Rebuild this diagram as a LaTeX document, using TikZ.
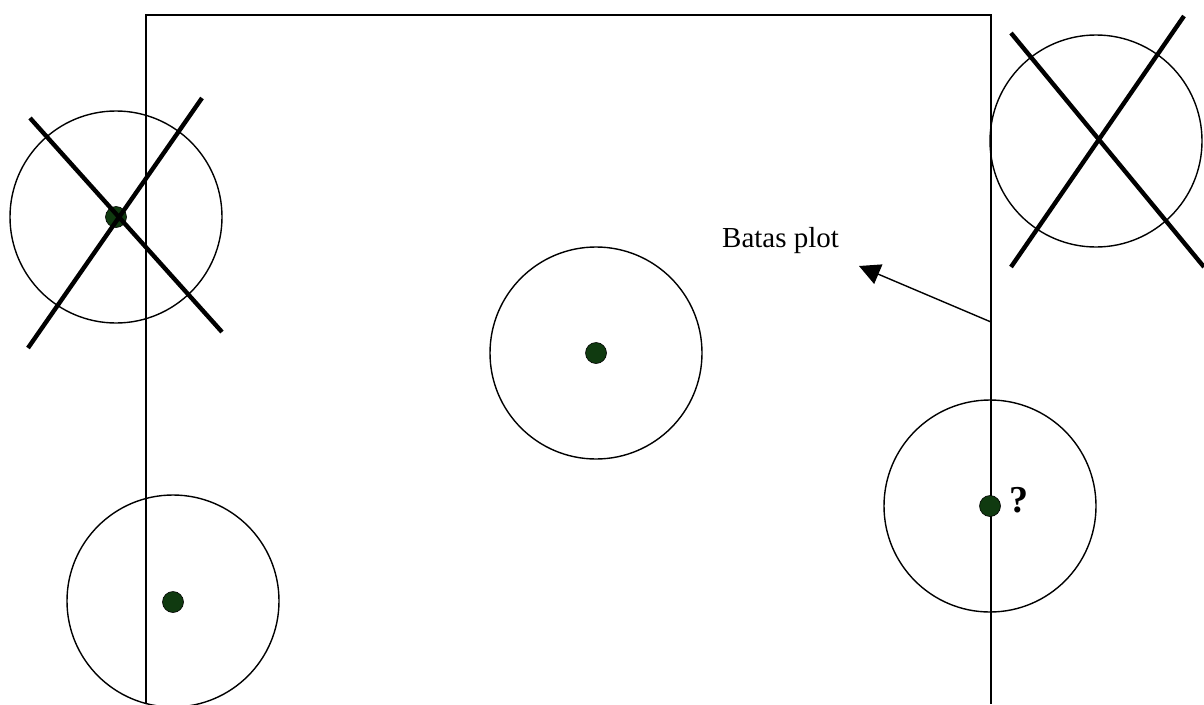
\documentclass[tikz,border=0pt]{standalone}
\usepackage{fontspec}
\setmainfont{Liberation Serif}
\usetikzlibrary{arrows.meta}
\definecolor{dotgreen}{RGB}{16,58,16}
\tikzset{
  plotline/.style={line width=1.4pt, black},
  ring/.style={circle, draw=black, line width=1.4pt, minimum size=212pt, inner sep=0pt},
  tree/.style={circle, fill=dotgreen, draw=black, line width=0.6pt, minimum size=21pt, inner sep=0pt},
  crossline/.style={line width=4.4pt, black},
  label/.style={font=\fontsize{29}{34}\selectfont, inner sep=0pt}
}
\begin{document}
\begin{tikzpicture}[x=1pt, y=-1pt]
\useasboundingbox (0,0) rectangle (1204,704);
% plot boundary
\coordinate (bl) at (146,704);
\coordinate (tl) at (146,15);
\coordinate (tr) at (991,15);
\coordinate (br) at (991,704);
\draw[plotline] (bl) -- (tl) -- (tr) -- (br);
% circles
\node[ring] (c1) at (116,217) {};
\node[ring] (c2) at (1096,141) {};
\node[ring] (c3) at (596,353) {};
\node[ring] (c4) at (173,601) {};
\node[ring] (c5) at (990,506) {};
% trees
\node[tree] (t1) at (116,217) {};
\node[tree] (t3) at (596,353) {};
\node[tree] (t4) at (173,602) {};
\node[tree] (t5) at (990,506) {};
% crosses
\coordinate (x1a) at (30,118);
\coordinate (x1b) at (222,332);
\coordinate (x1c) at (202,98);
\coordinate (x1d) at (28,348);
\draw[crossline] (x1a) -- (x1b);
\draw[crossline] (x1c) -- (x1d);
\coordinate (x2a) at (1011,33);
\coordinate (x2b) at (1204,267);
\coordinate (x2c) at (1184,16);
\coordinate (x2d) at (1011,267);
\draw[crossline] (x2a) -- (x2b);
\draw[crossline] (x2c) -- (x2d);
% label and arrow
\node[label, anchor=base west] (lbl) at (722,247) {Batas plot};
\coordinate (astart) at (991,322);
\coordinate (atip) at (859,266);
\draw[line width=1.4pt, -{Triangle[length=21pt,width=21pt]}] (astart) -- (atip);
\node[font=\bfseries\fontsize{38}{44}\selectfont, inner sep=0pt, anchor=base] (q) at (1019,512) {?};
\end{tikzpicture}
\end{document}
